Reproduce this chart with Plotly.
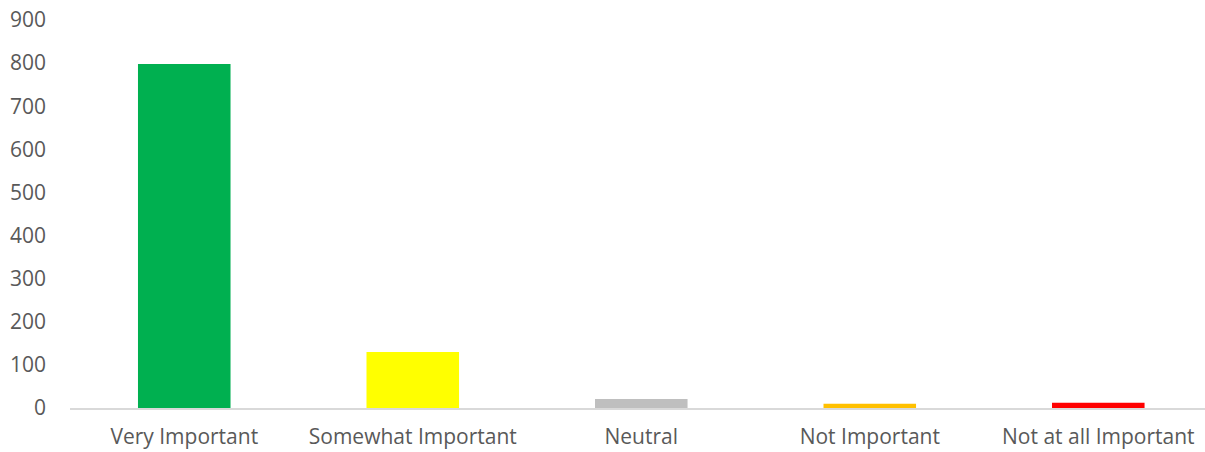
import plotly.graph_objects as go

categories = ["Very Important", "Somewhat Important", "Neutral", "Not Important", "Not at all Important"]
values = [798, 130, 21, 10, 12]
colors = ["#00B050", "#FFFF00", "#BFBFBF", "#FFC000", "#FF0000"]
y_ticks = [0, 100, 200, 300, 400, 500, 600, 700, 800, 900]

fig = go.Figure(go.Bar(x=categories, y=values, marker=dict(color=colors, line=dict(width=0)), width=0.405))

fig.update_layout(
    width=1205, height=452,
    margin=dict(l=70, r=0, t=20, b=44),
    paper_bgcolor="white", plot_bgcolor="white",
    font=dict(family="Open Sans", size=21, color="#595959"),
    showlegend=False,
    bargap=0.595,
)
fig.update_xaxes(
    type="category", range=[-0.5, 4.467],
    showline=True, linecolor="#D9D9D9", linewidth=1.5,
    showgrid=False, ticks="", ticklabelstandoff=9,
)
fig.update_yaxes(
    range=[0, 900], tickvals=y_ticks, showgrid=False, zeroline=False,
    showline=False, ticks="", ticklabelstandoff=23,
)
fig.write_html("out.html")
